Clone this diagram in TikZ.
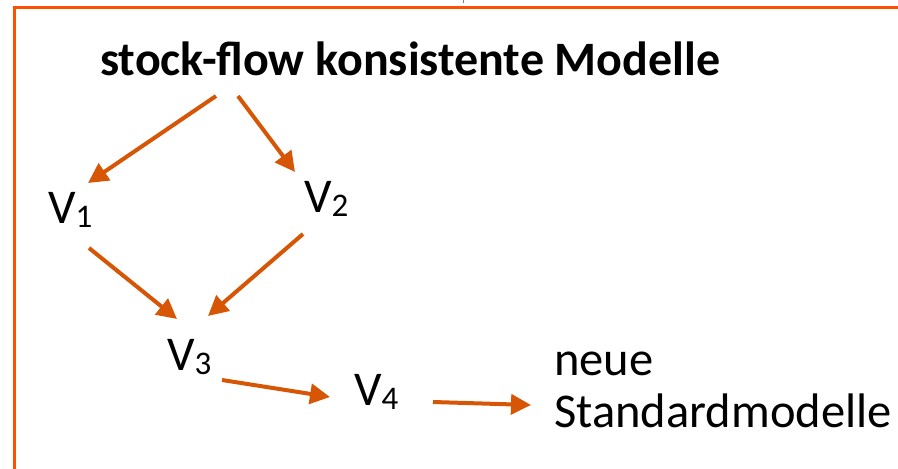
\documentclass[tikz,border=0pt]{standalone}
\usepackage{fontspec}
\setmainfont{Carlito}
\usetikzlibrary{arrows.meta}
\definecolor{arrowc}{RGB}{214,86,6}
\definecolor{framec}{RGB}{255,80,0}
\newcommand{\vsub}[1]{\raisebox{-4pt}{\fontsize{33}{33}\selectfont #1}}
\begin{document}
\begin{tikzpicture}[x=1pt,y=-1pt,
  lbl/.style={anchor=base west,inner sep=0pt,font=\fontsize{48.5}{52}\selectfont},
  conn/.style={draw=arrowc,line width=4pt,-{Triangle[length=20pt,width=20pt]}},
  frame/.style={draw=framec,line width=3pt}]
\useasboundingbox (0,0) rectangle (898,469);
% frame
\coordinate (fb) at (14,469);
\coordinate (fc) at (14,7.5);
\coordinate (fr) at (898,7.5);
\draw[frame] (fb) -- (fc) -- (fr);
\coordinate (tk1) at (463,0);
\coordinate (tk2) at (463,3);
\draw[gray,line width=1pt] (tk1) -- (tk2);
% labels
\node[lbl,font=\fontsize{48}{57}\selectfont\bfseries] (title) at (100,75) {stock-flow konsistente Modelle};
\node[lbl] (v1) at (48,223) {V\vsub{1}};
\node[lbl] (v2) at (304,212) {V\vsub{2}};
\node[lbl] (v3) at (167,370) {V\vsub{3}};
\node[lbl] (v4) at (354,405) {V\vsub{4}};
\node[lbl,align=left] (neue) at (554,427) {neue\\Standardmodelle};
% connector ends
\coordinate (a1s) at (216,96);  \coordinate (a1e) at (88,183);
\coordinate (a2s) at (238,96);  \coordinate (a2e) at (295,172);
\coordinate (a3s) at (89,248);  \coordinate (a3e) at (177,319);
\coordinate (a4s) at (303,234); \coordinate (a4e) at (208,316);
\coordinate (a5s) at (222,380); \coordinate (a5e) at (330,397);
\coordinate (a6s) at (433,402); \coordinate (a6e) at (531,405);
\draw[conn] (a1s) -- (a1e);
\draw[conn] (a2s) -- (a2e);
\draw[conn] (a3s) -- (a3e);
\draw[conn] (a4s) -- (a4e);
\draw[conn] (a5s) -- (a5e);
\draw[conn] (a6s) -- (a6e);
\end{tikzpicture}
\end{document}
